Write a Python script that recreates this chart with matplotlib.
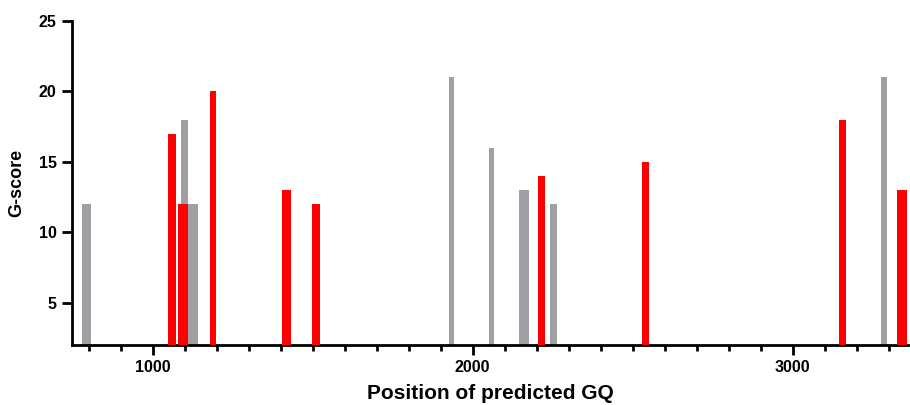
import matplotlib
matplotlib.use("Agg")
import matplotlib.pyplot as plt
from matplotlib.ticker import MultipleLocator

# Gray GQs (start, end position, G-score)
gray_start = [778, 1087, 1109, 1925, 2050, 2146, 2240, 3277]
gray_end   = [807, 1109, 1143, 1942, 2068, 2175, 2263, 3295]
gray_score = [12, 18, 12, 21, 16, 13, 12, 21]

# Red GQs
red_start = [1047, 1078, 1179, 1403, 1497, 2203, 2528, 3144, 3326]
red_end   = [1073, 1109, 1198, 1432, 1523, 2227, 2550, 3167, 3356]
red_score = [17, 12, 20, 13, 12, 14, 15, 18, 13]

x_major = [1000, 2000, 3000]
y_major = [5, 10, 15, 20, 25]

plt.rcParams['font.family'] = ['Liberation Sans', 'DejaVu Sans']
plt.rcParams['font.weight'] = 'bold'

fig = plt.figure(figsize=(9.1, 4.05), dpi=100)
ax = fig.add_axes([72/910, 1-345/405, 836/910, 324/405])

gw = [e - s for s, e in zip(gray_start, gray_end)]
rw = [e - s for s, e in zip(red_start, red_end)]
ax.bar(gray_start, gray_score, width=gw, align='edge', color='#A0A0A4', linewidth=0, zorder=2)
ax.bar(red_start, red_score, width=rw, align='edge', color='#FF0000', linewidth=0, zorder=3)

ax.set_xlim(748, 3360)
ax.set_ylim(2, 25)
ax.set_xticks(x_major)
ax.xaxis.set_minor_locator(MultipleLocator(100))
ax.set_yticks(y_major)

for s in ['top', 'right']:
    ax.spines[s].set_visible(False)
for s in ['left', 'bottom']:
    ax.spines[s].set_linewidth(2)
    ax.spines[s].set_color('black')

ax.tick_params(axis='both', which='major', direction='out', length=7, width=2, labelsize=11.5, pad=4)
ax.tick_params(axis='x', which='minor', direction='out', length=4, width=2)
for lab in ax.get_xticklabels() + ax.get_yticklabels():
    lab.set_fontweight('bold')

ax.set_xlabel('Position of predicted GQ', fontsize=15, fontweight='bold', labelpad=6)
ax.set_ylabel('G-score', fontsize=13, fontweight='bold', labelpad=10)

fig.savefig('out.png', dpi=100)
